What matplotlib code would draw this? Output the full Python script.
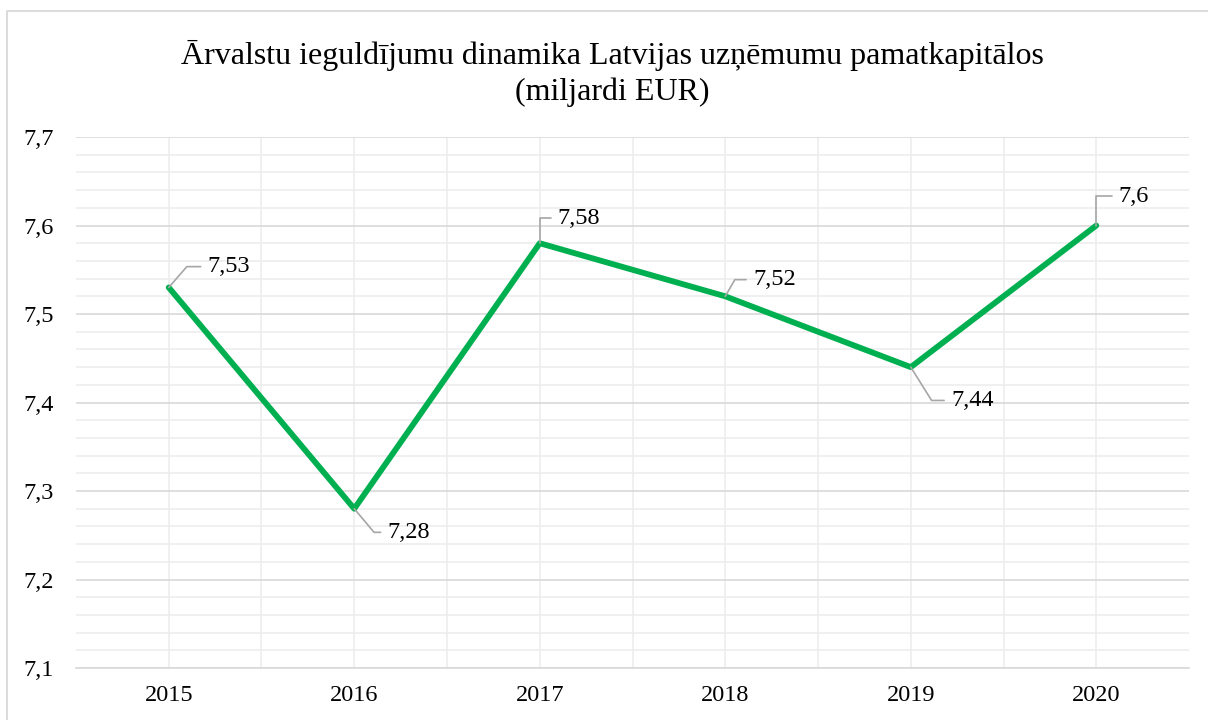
import matplotlib.pyplot as plt
from matplotlib.lines import Line2D
from matplotlib.ticker import MultipleLocator, FixedLocator

plt.rcParams['font.family'] = ['Liberation Serif', 'DejaVu Serif']

# ============== DATA ==============
years = ['2015', '2016', '2017', '2018', '2019', '2020']
values = [7.53, 7.28, 7.58, 7.52, 7.44, 7.60]
value_labels = ['7,53', '7,28', '7,58', '7,52', '7,44', '7,6']
y_ticks = [7.1, 7.2, 7.3, 7.4, 7.5, 7.6, 7.7]
y_tick_labels = ['7,1', '7,2', '7,3', '7,4', '7,5', '7,6', '7,7']
title = 'Ārvalstu ieguldījumu dinamika Latvijas uzņēmumu pamatkapitālos\n(miljardi EUR)'
# ==================================

# label placement (offset in points, leader angle at the point)
label_offsets = [(28, 15), (24, -17), (13, 18), (20, 12), (29, -24), (16, 21)]
leader_angles = [49, -50, 90, 60, -58, 90]

fig = plt.figure(figsize=(12.08, 7.2), dpi=100)
ax = fig.add_axes([0.0629, 0.0722, 0.9214, 0.7375])

x = list(range(len(years)))
ax.plot(x, values, color='#00B050', lw=4.2, solid_capstyle='round', zorder=3)

for xi, v, lab, off, ang in zip(x, values, value_labels, label_offsets, leader_angles):
    ax.annotate(lab, xy=(xi, v), xytext=off, textcoords='offset points',
                ha='left', va='center', fontsize=17.5, color='#000000',
                arrowprops=dict(arrowstyle='-', color='#A6A6A6', lw=1.2,
                                connectionstyle=f'angle,angleA=0,angleB={ang},rad=0',
                                relpos=(0, 0.5), shrinkA=3, shrinkB=0),
                zorder=4)

ax.set_xlim(-0.5, len(years) - 0.5)
ax.set_ylim(7.1, 7.7)
ax.set_yticks(y_ticks)
ax.set_yticklabels(y_tick_labels)
ax.set_xticks(x)
ax.set_xticklabels(years)
ax.yaxis.set_minor_locator(MultipleLocator(0.02))
ax.xaxis.set_minor_locator(FixedLocator([i + 0.5 for i in x[:-1]]))

ax.grid(which='major', axis='y', color='#D9D9D9', lw=1.2)
ax.grid(which='minor', axis='y', color='#EDEDED', lw=1.2)
ax.grid(which='both', axis='x', color='#EDEDED', lw=1.2)
ax.set_axisbelow(True)

for side in ['left', 'right', 'top']:
    ax.spines[side].set_visible(False)
ax.spines['bottom'].set_color('#D9D9D9')
ax.spines['bottom'].set_linewidth(1.2)

ax.tick_params(axis='both', which='both', length=0, labelsize=17.5)
ax.tick_params(axis='y', pad=16)
ax.tick_params(axis='x', pad=12)

fig.text(0.507, 0.898, title, ha='center', va='center', fontsize=23,
         linespacing=1.3)

# chart frame (only left and top edges are inside the picture)
fig.add_artist(Line2D([0.0062, 0.0062, 1.0], [0.0, 0.9847, 0.9847],
                      transform=fig.transFigure, color='#D9D9D9', lw=1.3))

fig.savefig('out.png', dpi=100)
